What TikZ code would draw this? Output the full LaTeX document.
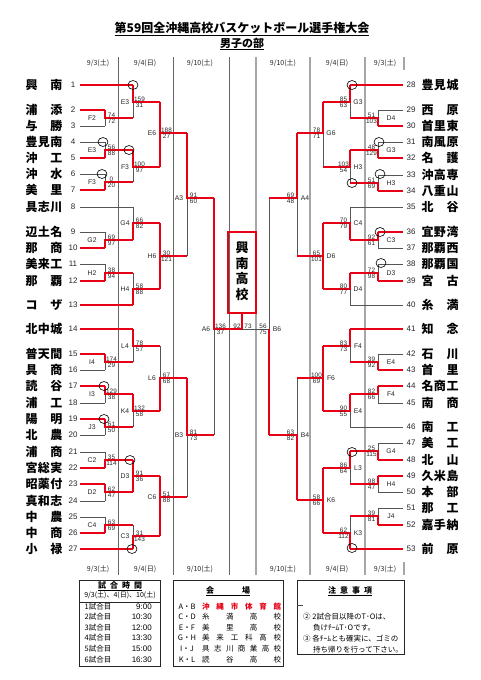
\documentclass[tikz,border=0pt]{standalone}
\usepackage{fontspec}
\setmainfont{Liberation Sans}
\newfontfamily\jp{Noto Sans CJK JP}
\definecolor{wred}{RGB}{232,0,20}
\definecolor{lgray}{RGB}{85,85,85}
\newif\ifredpass
\tikzset{
 win/.style={draw=wred,line width=1.8pt},
 lose/.style={draw=lgray,line width=0.6pt},
 nm/.style={font=\jp\bfseries\fontsize{12}{12}\selectfont,inner sep=0},
 num/.style={font=\fontsize{8}{8}\selectfont,inner sep=0,text=black!85},
 lab/.style={font=\fontsize{6.8}{6.8}\selectfont,inner sep=0,text=black!85},
 sc/.style={font=\fontsize{6.4}{6.4}\selectfont,inner sep=0.4pt,text=black!85},
 circ/.style={draw=black,line width=0.6pt},
 dt/.style={font=\jp\fontsize{7}{7}\selectfont,inner sep=0,text=black!85},
 gl/.style={draw=black!60,line width=0.6pt},
 gr/.style={draw=black!35,line width=1.2pt},
 tb/.style={font=\jp\fontsize{7.5}{7.5}\selectfont,inner sep=0},
 bx/.style={draw=black!85,line width=0.8pt}
}
\newcommand\tL[5]{%
 \ifredpass
 \node[nm] (t#1) at (44,#2) {\makebox[37pt][s]{#3}};
 \node[num] (n#1) at (73,#2) {#1};
 \if w#5\relax \draw[win] (80,#2) -- (#4,#2);\fi
 \else
 \if w#5\relax\else \draw[lose] (80,#2) -- (#4,#2);\fi
 \fi}
\newcommand\tR[5]{%
 \ifredpass
 \node[nm] (t#1) at (440,#2) {\makebox[37pt][s]{#3}};
 \node[num] (n#1) at (411,#2) {#1};
 \if w#5\relax \draw[win] (403,#2) -- (#4,#2);\fi
 \else
 \if w#5\relax\else \draw[lose] (403,#2) -- (#4,#2);\fi
 \fi}
% #5: t = upper wins, b = lower wins, f = whole vertical red
\newcommand\mL[9]{%
 \ifdim #1pt=105pt\def\lo{13}\else\def\lo{8}\fi
 \ifredpass
  \if t#5\relax \draw[win] (#1,#2) -- (#1,#4) -- (#9,#4);\fi
  \if b#5\relax \draw[win] (#1,#3) -- (#1,#4) -- (#9,#4);\fi
  \if f#5\relax \draw[win] (#1,#2) -- (#1,#3); \draw[win] (#1,#4) -- (#9,#4);\fi
  \node[lab] at (#1-\lo,#4) {#6};
  \node[sc,anchor=south] at (#1+6.5,#4) {#7};
  \node[sc,anchor=north] at (#1+6.5,#4) {#8};
 \else
  \if t#5\relax \draw[lose] (#1,#4) -- (#1,#3);\fi
  \if b#5\relax \draw[lose] (#1,#2) -- (#1,#4);\fi
 \fi}
\newcommand\mR[9]{%
 \ifdim #1pt=378pt\def\lo{13}\else\def\lo{8}\fi
 \ifredpass
  \if t#5\relax \draw[win] (#1,#2) -- (#1,#4) -- (#9,#4);\fi
  \if b#5\relax \draw[win] (#1,#3) -- (#1,#4) -- (#9,#4);\fi
  \if f#5\relax \draw[win] (#1,#2) -- (#1,#3); \draw[win] (#1,#4) -- (#9,#4);\fi
  \node[lab] at (#1+\lo,#4) {#6};
  \node[sc,anchor=south] at (#1-6.5,#4) {#7};
  \node[sc,anchor=north] at (#1-6.5,#4) {#8};
 \else
  \if t#5\relax \draw[lose] (#1,#4) -- (#1,#3);\fi
  \if b#5\relax \draw[lose] (#1,#2) -- (#1,#4);\fi
 \fi}
\newcommand\bracket{%
\tL{1}{85}{興\hfill 南}{133}{w}
\tL{2}{110}{浦\hfill 添}{105}{w}
\tL{3}{126}{与\hfill 勝}{105}{l}
\tL{4}{142}{豊\hfill 見\hfill 南}{105}{l}
\tL{5}{158}{沖\hfill 工}{105}{w}
\tL{6}{174}{沖\hfill 水}{105}{l}
\tL{7}{190}{美\hfill 里}{105}{w}
\tL{8}{207}{具\hfill 志\hfill 川}{133}{l}
\tL{9}{232}{辺\hfill 土\hfill 名}{105}{l}
\tL{10}{248}{那\hfill 商}{105}{w}
\tL{11}{264}{美\hfill 来\hfill 工}{105}{l}
\tL{12}{281}{那\hfill 覇}{105}{w}
\tL{13}{305}{コ\hfill ザ}{133}{w}
\tL{14}{329}{北\hfill 中\hfill 城}{133}{w}
\tL{15}{354}{普\hfill 天\hfill 間}{105}{w}
\tL{16}{370}{具\hfill 商}{105}{l}
\tL{17}{386}{読\hfill 谷}{105}{w}
\tL{18}{403}{浦\hfill 工}{105}{l}
\tL{19}{419}{陽\hfill 明}{105}{w}
\tL{20}{435}{北\hfill 農}{105}{l}
\tL{21}{452}{浦\hfill 商}{105}{l}
\tL{22}{468}{宮\hfill 総\hfill 実}{105}{w}
\tL{23}{484}{昭\hfill 薬\hfill 付}{105}{w}
\tL{24}{501}{真\hfill 和\hfill 志}{105}{l}
\tL{25}{517}{中\hfill 農}{105}{l}
\tL{26}{533}{中\hfill 商}{105}{w}
\tL{27}{549}{小\hfill 禄}{133}{w}
\tR{28}{85}{豊\hfill 見\hfill 城}{350}{w}
\tR{29}{110}{西\hfill 原}{378}{l}
\tR{30}{126}{首\hfill 里\hfill 東}{378}{w}
\tR{31}{142}{南\hfill 風\hfill 原}{378}{l}
\tR{32}{158}{名\hfill 護}{378}{w}
\tR{33}{175}{沖\hfill 高\hfill 専}{378}{l}
\tR{34}{191}{八\hfill 重\hfill 山}{378}{w}
\tR{35}{207}{北\hfill 谷}{350}{l}
\tR{36}{232}{宜\hfill 野\hfill 湾}{378}{w}
\tR{37}{248}{那\hfill 覇\hfill 西}{378}{l}
\tR{38}{264}{那\hfill 覇\hfill 国}{378}{l}
\tR{39}{281}{宮\hfill 古}{378}{w}
\tR{40}{305}{糸\hfill 満}{350}{l}
\tR{41}{329}{知\hfill 念}{350}{w}
\tR{42}{354}{石\hfill 川}{378}{l}
\tR{43}{370}{首\hfill 里}{378}{w}
\tR{44}{386}{名\hfill 商\hfill 工}{378}{w}
\tR{45}{403}{南\hfill 商}{378}{l}
\tR{46}{427}{南\hfill 工}{350}{l}
\tR{47}{443}{美\hfill 工}{378}{l}
\tR{48}{460}{北\hfill 山}{378}{w}
\tR{49}{476}{久\hfill 米\hfill 島}{378}{w}
\tR{50}{492}{本\hfill 部}{378}{l}
\tR{51}{508}{那\hfill 工}{378}{l}
\tR{52}{525}{嘉\hfill 手\hfill 納}{378}{w}
\tR{53}{549}{前\hfill 原}{350}{w}
\mL{105}{110}{126}{118}{t}{F2}{74}{72}{133}
\mL{133}{85}{118}{102}{t}{E3}{159}{31}{160}
\mL{105}{142}{158}{150}{b}{E3}{56}{88}{133}
\mL{105}{174}{190}{182}{b}{F3}{0}{20}{133}
\mL{133}{150}{182}{167}{t}{F3}{100}{97}{160}
\mL{160}{102}{167}{133}{f}{E6}{188}{27}{187}
\mL{105}{232}{248}{240}{b}{G2}{69}{97}{133}
\mL{133}{207}{240}{223}{b}{G4}{66}{82}{160}
\mL{105}{264}{281}{273}{b}{H2}{38}{94}{133}
\mL{133}{273}{305}{289}{b}{H4}{58}{88}{160}
\mL{160}{223}{289}{256}{f}{H6}{30}{121}{187}
\mL{187}{133}{256}{198}{t}{A3}{91}{60}{214}
\mL{105}{354}{370}{362}{t}{I4}{174}{29}{133}
\mL{133}{329}{362}{346}{t}{L4}{78}{57}{160}
\mL{105}{386}{403}{394}{t}{I3}{129}{38}{133}
\mL{105}{419}{435}{427}{t}{J3}{61}{50}{133}
\mL{133}{394}{427}{411}{t}{K4}{132}{58}{160}
\mL{160}{346}{411}{378}{b}{L6}{67}{68}{187}
\mL{105}{452}{468}{460}{b}{C2}{35}{114}{133}
\mL{105}{484}{501}{492}{t}{D2}{62}{47}{133}
\mL{133}{460}{492}{476}{f}{D3}{91}{36}{160}
\mL{105}{517}{533}{525}{b}{C4}{63}{69}{133}
\mL{133}{525}{549}{536}{b}{C3}{31}{143}{160}
\mL{160}{476}{536}{497}{f}{C6}{51}{88}{187}
\mL{187}{378}{497}{435}{t}{B3}{81}{73}{214}
\mL{214}{198}{435}{329}{t}{A6}{136}{37}{242}
\mR{378}{110}{126}{118}{b}{D4}{51}{103}{350}
\mR{350}{85}{118}{102}{t}{G3}{85}{63}{323}
\mR{378}{142}{158}{150}{b}{G3}{48}{129}{350}
\mR{378}{175}{191}{183}{b}{H3}{51}{69}{350}
\mR{350}{150}{183}{167}{t}{H3}{103}{54}{323}
\mR{323}{102}{167}{133}{t}{G6}{78}{71}{297}
\mR{378}{232}{248}{240}{t}{C3}{92}{61}{350}
\mR{350}{207}{240}{223}{b}{C4}{70}{79}{323}
\mR{378}{264}{281}{273}{b}{D3}{72}{98}{350}
\mR{350}{273}{305}{289}{t}{D4}{80}{77}{323}
\mR{323}{223}{289}{256}{f}{D6}{65}{101}{297}
\mR{297}{133}{256}{198}{t}{A4}{69}{48}{269}
\mR{378}{354}{370}{362}{b}{E4}{39}{92}{350}
\mR{350}{329}{362}{346}{t}{F4}{83}{73}{323}
\mR{378}{386}{403}{394}{t}{F4}{82}{66}{350}
\mR{350}{394}{427}{411}{t}{E4}{90}{55}{323}
\mR{323}{346}{411}{378}{f}{F6}{100}{69}{297}
\mR{378}{443}{460}{451}{b}{G4}{25}{115}{350}
\mR{378}{476}{492}{484}{t}{H4}{98}{47}{350}
\mR{350}{451}{484}{468}{t}{L3}{86}{64}{323}
\mR{378}{508}{525}{516}{b}{J4}{39}{81}{350}
\mR{350}{516}{549}{533}{b}{K3}{62}{112}{323}
\mR{323}{468}{533}{500}{f}{K6}{58}{66}{297}
\mR{297}{378}{500}{435}{b}{B4}{63}{82}{269}
}
\begin{document}
\begin{tikzpicture}[x=1pt,y=-1pt]
\useasboundingbox[fill=white] (0,0) rectangle (481,680);
% title
\node[font=\jp\bfseries\fontsize{12}{12}\selectfont,inner sep=0] (title) at (242,29) {\underline{第59回全沖縄高校バスケットボール選手権大会}};
\node[font=\jp\bfseries\fontsize{11}{11}\selectfont,inner sep=0] (sub) at (242,44) {\underline{男子の部}};
% column lines
\foreach \x in {118,173,229} \draw[gl] (\x,57) -- (\x,575);
\foreach \x in {256,310,365} \draw[gr] (\x,57) -- (\x,575);
\draw[gr] (404,57) -- (404,70);
\draw[gr] (404,562) -- (404,575);
% dates
\foreach \yy in {63,569}{
 \node[dt] at (98,\yy) {9/3(土)};
 \node[dt] at (145,\yy) {9/4(日)};
 \node[dt] at (200,\yy) {9/10(土)};
 \node[dt] at (283,\yy) {9/10(土)};
 \node[dt] at (337,\yy) {9/4(日)};
 \node[dt] at (385,\yy) {9/3(土)};
}
% gray pass then red pass
\redpassfalse
\bracket
\draw[lose] (269,198) -- (269,329) -- (242,329);
\redpasstrue
\bracket
% B6 (lost the final)
\draw[win] (269,435) -- (269,329);
\node[lab] at (277,329) {B6};
\node[sc,anchor=south] at (263,329) {56};
\node[sc,anchor=north] at (263,329) {75};
% champion
\node[draw=wred,line width=1.8pt,minimum width=28pt,minimum height=81pt,inner sep=0] (champ) at (242,272.5) {};
\node[font=\jp\bfseries\fontsize{13}{15.7}\selectfont,align=center,inner sep=0] (champtxt) at (242,271) {興\\南\\高\\校};
\coordinate (fin) at (242,329);
\draw[win] (fin) -- (champ.south);
\node[sc,anchor=south] at (237,329) {92};
\node[sc,anchor=south] at (248,329) {73};
% circles
\foreach \x/\y in {133/85,103/142,129/150,102/174,104/386,104/419,130/460,132/549,352/85,379/142,380/174,352/183,380/232,381/263,352/452,352/548}
 \draw[circ] (\x,\y) ellipse [x radius=5pt, y radius=4.5pt];
% table 1
\draw[bx] (79,580) rectangle (160,666);
\node[font=\jp\bfseries\fontsize{8}{8}\selectfont,inner sep=0] (h1) at (120,586) {\underline{\makebox[44pt][s]{試\hfill 合\hfill 時\hfill 間}}};
\node[tb,font=\jp\fontsize{7}{7}\selectfont] (h1b) at (120,595) {9/3(土)、4(日)、10(土)};
\draw[black!85,line width=1pt] (79,602) -- (160,602);
\foreach \y/\a/\b in {607/1/9:00,617/2/10:30,628/3/12:00,638/4/13:30,649/5/15:00,660/6/16:30}{
 \node[tb] at (98,\y) {\a 試合目};
 \node[tb,font=\fontsize{8}{8}\selectfont,anchor=east] at (152,\y) {\b};
}
% table 2
\draw[bx] (173,580) rectangle (283,666);
\node[font=\jp\bfseries\fontsize{8}{8}\selectfont,inner sep=0] (h2) at (228,591) {\underline{\makebox[44pt][s]{会\hfill 場}}};
\node[tb] at (187,607) {A・B};
\node[tb,anchor=west,text=wred,font=\jp\bfseries\fontsize{7.5}{7.5}\selectfont] at (202,607) {\makebox[79pt][s]{沖\hfill 縄\hfill 市\hfill 体\hfill 育\hfill 館}};
\node[tb] at (187,617) {C・D};
\node[tb,anchor=west] at (202,617) {\makebox[79pt][s]{糸\hfill 満\hfill 高\hfill 校}};
\node[tb] at (187,628) {E・F};
\node[tb,anchor=west] at (202,628) {\makebox[79pt][s]{美\hfill 里\hfill 高\hfill 校}};
\node[tb] at (187,638) {G・H};
\node[tb,anchor=west] at (202,638) {\makebox[79pt][s]{美\hfill 来\hfill 工\hfill 科\hfill 高\hfill 校}};
\node[tb] at (187,649) {I・J};
\node[tb,anchor=west] at (202,649) {\makebox[79pt][s]{具\hfill 志\hfill 川\hfill 商\hfill 業\hfill 高\hfill 校}};
\node[tb] at (187,660) {K・L};
\node[tb,anchor=west] at (202,660) {\makebox[79pt][s]{読\hfill 谷\hfill 高\hfill 校}};
% table 3
\draw[bx] (297,580) rectangle (404,654);
\node[font=\jp\bfseries\fontsize{8}{8}\selectfont,inner sep=0] (h3) at (350,591) {\underline{\makebox[44pt][s]{注\hfill 意\hfill 事\hfill 項}}};
\draw[black!70,line width=0.5pt] (297,605) -- (303,605);
\node[tb,anchor=west] at (303,617) {② 2試合目以降のT･Oは、};
\node[tb,anchor=west] at (313,628) {負けﾁｰﾑT･Oです。};
\node[tb,anchor=west] at (303,639) {③ 各ﾁｰﾑとも確実に、ゴミの};
\node[tb,anchor=west] at (313,650) {持ち帰りを行って下さい。};
\end{tikzpicture}
\end{document}
